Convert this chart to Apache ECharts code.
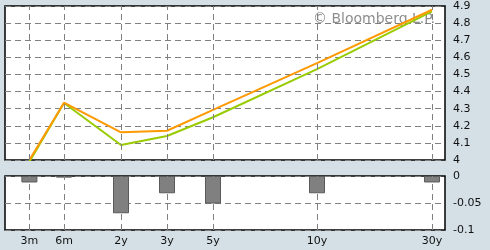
<!DOCTYPE html>
<html>
<head>
<meta charset="utf-8">
<script src="https://cdn.jsdelivr.net/npm/echarts@6/dist/echarts.min.js"></script>
<style>
html,body{margin:0;padding:0;background:#d4e0e6;}
#chart{width:490px;height:250px;}
</style>
</head>
<body>
<div id="chart"></div>
<script>
// Tenors and their place on the chart's maturity scale (scale units, 0..440)
var tenors = ['3m', '6m', '2y', '3y', '5y', '10y', '30y'];
var tenorScale = [24.4, 59, 116, 162, 208, 312, 427];
// Yield curves
var curveOrange = [4.00, 4.335, 4.162, 4.171, 4.293, 4.566, 4.878];
var curveGreen  = [3.99, 4.333, 4.088, 4.140, 4.250, 4.531, 4.868];
// Change (bars)
var change = [-0.012, -0.003, -0.069, -0.032, -0.051, -0.032, -0.012];
// Tick labels
var topTicks = [4, 4.1, 4.2, 4.3, 4.4, 4.5, 4.6, 4.7, 4.8, 4.9];
var bottomTicks = [-0.1, -0.05, 0];

function pairs(vals) {
  return tenorScale.map(function (x, i) { return [x, vals[i]]; });
}
var labelFont = {fontFamily: 'DejaVu Sans', fontSize: 11, color: '#111'};
var gridDash = {color: '#808080', width: 1, type: [6, 4]};
var vLines = tenorScale.map(function (x) { return {xAxis: x}; });
var vMark = {
  silent: true, symbol: ['none', 'none'], label: {show: false},
  lineStyle: gridDash, data: vLines, animation: false
};

var chart = echarts.init(document.getElementById('chart'), null, {renderer: 'canvas'});
chart.setOption({
  animation: false,
  backgroundColor: '#d4e0e6',
  grid: [
    {left: 5, top: 6, width: 440, height: 154, show: true, backgroundColor: '#fff', borderColor: '#000', borderWidth: 1.5},
    {left: 5, top: 176, width: 440, height: 54, show: true, backgroundColor: '#fff', borderColor: '#000', borderWidth: 1.5}
  ],
  xAxis: [
    {gridIndex: 0, type: 'value', min: 0, max: 440, axisLine: {show: false}, axisTick: {show: false}, axisLabel: {show: false}, splitLine: {show: false}},
    {gridIndex: 1, type: 'value', min: 0, max: 440, axisLine: {show: false}, axisTick: {show: false}, splitLine: {show: false},
      axisLabel: Object.assign({show: true, margin: 6, customValues: tenorScale,
        formatter: function (v) { var i = tenorScale.indexOf(v); return i >= 0 ? tenors[i] : ''; }}, labelFont)}
  ],
  yAxis: [
    {gridIndex: 0, type: 'value', position: 'right', min: topTicks[0], max: topTicks[topTicks.length - 1], interval: 0.1,
      axisLine: {show: false}, axisTick: {show: false}, splitLine: {show: true, lineStyle: gridDash},
      axisLabel: Object.assign({margin: 8}, labelFont)},
    {gridIndex: 1, type: 'value', position: 'right', min: bottomTicks[0], max: bottomTicks[bottomTicks.length - 1], interval: 0.05,
      axisLine: {show: false}, axisTick: {show: false}, splitLine: {show: true, lineStyle: gridDash},
      axisLabel: Object.assign({margin: 8}, labelFont)}
  ],
  graphic: [{
    type: 'text', z: 1, left: 313, top: 12,
    style: {text: '\u00a9 Bloomberg L.P.', fontFamily: 'DejaVu Sans', fontSize: 14, fill: '#8e8e8e'}
  }],
  series: [
    {type: 'line', xAxisIndex: 0, yAxisIndex: 0, data: pairs(curveGreen), symbol: 'none', clip: true,
      lineStyle: {color: '#99cc00', width: 2}, z: 3, markLine: vMark},
    {type: 'line', xAxisIndex: 0, yAxisIndex: 0, data: pairs(curveOrange), symbol: 'none', clip: true,
      lineStyle: {color: '#ff9900', width: 2}, z: 4},
    {type: 'bar', xAxisIndex: 1, yAxisIndex: 1, data: pairs(change), barWidth: 16,
      itemStyle: {color: '#808080', borderColor: '#5a5a5a', borderWidth: 1}, z: 3, markLine: vMark}
  ]
});
</script>
</body>
</html>
